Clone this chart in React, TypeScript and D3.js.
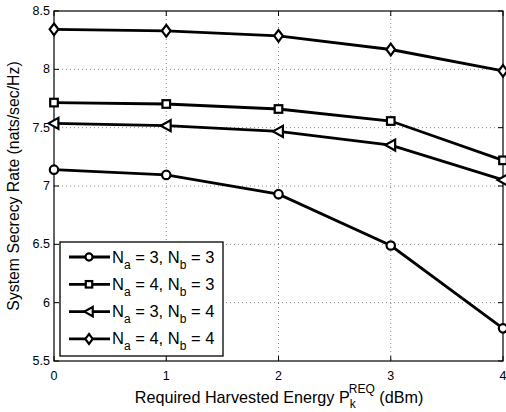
import React from "react";
import * as d3 from "d3";

const xValues = [0, 1, 2, 3, 4];
const yTicks = [5.5, 6, 6.5, 7, 7.5, 8, 8.5];
const seriesNames = ["3,3", "4,3", "3,4", "4,4"];
const circleVals = [7.14, 7.095, 6.93, 6.49, 5.78];
const squareVals = [7.715, 7.703, 7.66, 7.557, 7.22];
const triangleVals = [7.537, 7.517, 7.468, 7.351, 7.052];
const diamondVals = [8.343, 8.33, 8.287, 8.17, 7.987];
const legendNa = ["3", "4", "3", "4"];
const legendNb = ["3", "3", "4", "4"];

const W = 506, H = 412;
const m = { left: 54, right: 503, top: 11, bottom: 361 };
const font = "Liberation Sans, Arial, Helvetica, sans-serif";

function Marker({ type, x, y, s = 1 }: { type: string; x: number; y: number; s?: number }) {
  const st = { fill: "white", stroke: "black", strokeWidth: 2.2 };
  if (type === "circle") return <circle cx={x} cy={y} r={4.2 * s} {...st} />;
  if (type === "square") {
    const h = 3.8 * s;
    return <rect x={x - h} y={y - h} width={2 * h} height={2 * h} {...st} />;
  }
  if (type === "triangle") {
    const h = 5.5 * s;
    return <polygon points={`${x - h},${y} ${x + h * 0.8},${y - h} ${x + h * 0.8},${y + h}`} {...st} />;
  }
  const h = 5.8 * s;
  return <polygon points={`${x},${y - h} ${x + h * 0.75},${y} ${x},${y + h} ${x - h * 0.75},${y}`} {...st} />;
}

export default function App() {
  const x = d3.scaleLinear().domain([0, 4]).range([m.left, m.right]);
  const y = d3.scaleLinear().domain([5.5, 8.5]).range([m.bottom, m.top]);
  const series = [
    { type: "circle", vals: circleVals },
    { type: "square", vals: squareVals },
    { type: "triangle", vals: triangleVals },
    { type: "diamond", vals: diamondVals },
  ];
  const line = d3.line<number>().x((_, i) => x(xValues[i])).y((v) => y(v));
  const tl = 5;
  return (
    <svg width={W} height={H} style={{ display: "block", position: "absolute", left: 0, top: 0 }}>
      <rect x={0} y={0} width={W} height={H} fill="white" />
      {/* grid */}
      {xValues.slice(1, -1).map((v) => (
        <line key={"gx" + v} x1={x(v)} x2={x(v)} y1={m.top} y2={m.bottom} stroke="#888" strokeWidth={1} strokeDasharray="1,3" />
      ))}
      {yTicks.slice(1, -1).map((v) => (
        <line key={"gy" + v} x1={m.left} x2={m.right} y1={y(v)} y2={y(v)} stroke="#888" strokeWidth={1} strokeDasharray="1,3" />
      ))}
      {/* ticks */}
      {xValues.map((v) => (
        <g key={"tx" + v}>
          <line x1={x(v)} x2={x(v)} y1={m.bottom} y2={m.bottom - tl} stroke="black" />
          <line x1={x(v)} x2={x(v)} y1={m.top} y2={m.top + tl} stroke="black" />
          <text x={x(v)} y={380} textAnchor="middle" fontFamily={font} fontSize={12.5}>{v}</text>
        </g>
      ))}
      {yTicks.map((v) => (
        <g key={"ty" + v}>
          <line x1={m.left} x2={m.left + tl} y1={y(v)} y2={y(v)} stroke="black" />
          <line x1={m.right} x2={m.right - tl} y1={y(v)} y2={y(v)} stroke="black" />
          <text x={m.left - 4} y={y(v) + 4} textAnchor="end" fontFamily={font} fontSize={12.5}>{v}</text>
        </g>
      ))}
      <rect x={m.left} y={m.top} width={m.right - m.left} height={m.bottom - m.top} fill="none" stroke="black" strokeWidth={1.2} />
      {/* series */}
      {series.map((s) => (
        <g key={s.type}>
          <path d={line(s.vals) || ""} fill="none" stroke="black" strokeWidth={2.8} />
          {s.vals.map((v, i) => (
            <Marker key={i} type={s.type} x={x(xValues[i])} y={y(v)} />
          ))}
        </g>
      ))}
      {/* legend */}
      <rect x={60} y={242} width={163} height={114} fill="white" stroke="black" strokeWidth={1.3} />
      {series.map((s, i) => {
        const ly = 257 + i * 27.3;
        return (
          <g key={"lg" + i}>
            <line x1={69} x2={110} y1={ly} y2={ly} stroke="black" strokeWidth={2.8} />
            <Marker type={s.type} x={89} y={ly} s={0.85} />
            <text x={112} y={ly + 5.5} fontFamily={font} fontSize={16.5} data-name={seriesNames[i]}>
              N<tspan fontSize={12} dy={6}>a</tspan>
              <tspan dy={-6}> = {legendNa[i]}, N</tspan>
              <tspan fontSize={12} dy={6}>b</tspan>
              <tspan dy={-6}> = {legendNb[i]}</tspan>
            </text>
          </g>
        );
      })}
      {/* axis labels */}
      <text transform={`translate(19,${(m.top + m.bottom) / 2}) rotate(-90)`} textAnchor="middle" fontFamily={font} fontSize={15.8}>
        System Secrecy Rate (nats/sec/Hz)
      </text>
      <text x={279} y={403} textAnchor="middle" fontFamily={font} fontSize={16.2}>
        Required Harvested Energy P<tspan fontSize={12} dy={5}>k</tspan>
        <tspan fontSize={12} dx={-7} dy={-15}>REQ</tspan>
        <tspan dy={10}> (dBm)</tspan>
      </text>
    </svg>
  );
}
